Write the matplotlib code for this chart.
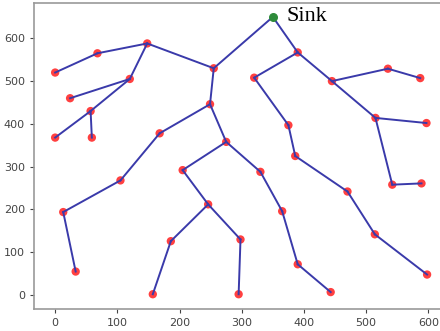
import matplotlib
matplotlib.use("Agg")
import matplotlib.pyplot as plt

# node coordinates (index 0 = sink)
node_x = [350, 255, 148, 68, 0, 120, 24, 57, 0, 59,
          249, 168, 105, 13, 33, 275, 205, 246, 186, 157,
          298, 295, 330, 365, 390, 443, 390, 320, 375, 386,
          470, 514, 598, 445, 535, 587, 515, 597, 542, 589]
node_y = [650, 530, 588, 565, 520, 505, 460, 430, 368, 368,
          446, 378, 268, 194, 55, 358, 292, 212, 126, 2,
          130, 2, 288, 196, 72, 7, 567, 508, 397, 325,
          242, 142, 48, 500, 529, 507, 414, 402, 258, 261]
edges = [(0, 1), (1, 2), (2, 3), (3, 4), (2, 5), (5, 6), (5, 7), (7, 8), (7, 9),
         (1, 10), (10, 11), (11, 12), (12, 13), (13, 14), (10, 15), (15, 16),
         (16, 17), (17, 18), (18, 19), (17, 20), (20, 21), (15, 22), (22, 23),
         (23, 24), (24, 25), (0, 26), (26, 27), (27, 28), (28, 29), (29, 30),
         (30, 31), (31, 32), (26, 33), (33, 34), (34, 35), (33, 36), (36, 37),
         (36, 38), (38, 39)]
sink_label = "Sink"
x_ticks = [0, 100, 200, 300, 400, 500, 600]
y_ticks = [0, 100, 200, 300, 400, 500, 600]

fig = plt.figure(figsize=(4.4, 3.31), dpi=100)
ax = fig.add_axes([34/440, (331-309)/331, (447-34)/440, (309-3)/331])

ax.scatter(node_x[1:], node_y[1:], s=36, color='red', alpha=0.75,
           edgecolors='none', zorder=2)
ax.scatter([node_x[0]], [node_y[0]], s=30, color='#2e8b3a', zorder=4)
for a, b in edges:
    ax.plot([node_x[a], node_x[b]], [node_y[a], node_y[b]],
            color='#3a3aaa', lw=1.4, zorder=3)

ax.text(node_x[0] + 22, node_y[0] + 2, sink_label, fontsize=16,
        family='Liberation Serif', va='center', ha='left')

ax.set_xlim(-34, 630)
ax.set_ylim(-32.5, 682.5)
ax.set_xticks(x_ticks)
ax.set_yticks(y_ticks)
ax.tick_params(labelsize=8, colors='#444444', length=3)
for sp in ax.spines.values():
    sp.set_color('#999999')
    sp.set_linewidth(1.2)

fig.savefig("out.png", dpi=100)
